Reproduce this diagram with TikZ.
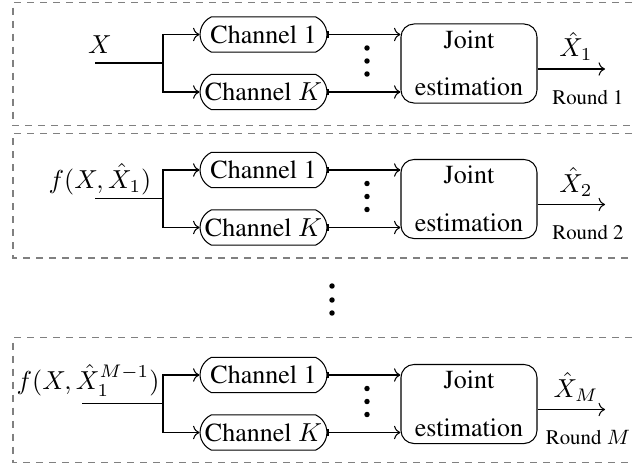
\documentclass[tikz,border=0pt]{standalone}
\usepackage[T1]{fontenc}
\renewcommand{\rmdefault}{ptm}
\usetikzlibrary{shapes.misc,arrows.meta}
\begin{document}
\begin{tikzpicture}[x=0.3846pt,y=-0.3846pt,
  chan/.style={rounded rectangle, rounded rectangle arc length=130, draw, minimum width=48.8pt, minimum height=13.5pt, inner sep=0pt},
  jbox/.style={draw, rounded corners=5pt, minimum width=52.3pt, minimum height=30.4pt, align=center, inner sep=0pt},
  rbox/.style={draw=gray, line width=0.45pt, dash pattern=on 2.7pt off 2.3pt},
  lbl/.style={anchor=base, inner sep=0pt},
  rnd/.style={anchor=base, inner sep=0pt, font=\footnotesize},
  barto/.style={{Bar[width=2.6pt,line width=0.4pt]}->},
  vdot/.style={circle, fill, inner sep=0pt, minimum size=2.1pt}]
\clip (0,0) rectangle (633,465);
\foreach \i/\o/\sx/\lx/\ly/\inl/\outl/\rl/\bt/\bb in {
 1/0/95/100/53.3/{$X$}/{$\hat{X}_1$}/{Round 1}/2.7/125.7,
 2/135.5/95/100/52.8/{$f(X,\hat{X}_1)$}/{$\hat{X}_2$}/{Round 2}/133.3/258,
 3/340.5/82/88/48.6/{$f(X,\hat{X}_1^{M-1})$}/{$\hat{X}_M$}/{Round $M$}/337.7/462.7}
{
  \draw[rbox] (645,\bt) -- (13,\bt) -- (13,\bb) -- (645,\bb);
  \begin{scope}[shift={(0,\o)}]
    \node[chan] (c1-\i) at (263.5,34.5) {Channel 1};
    \node[chan] (cK-\i) at (263.5,92) {Channel $K$};
    \node[jbox] (J-\i) at (469,63.5) {Joint\\[6.3pt]estimation};
    \coordinate (in-\i) at (\sx,63);
    \coordinate (br-\i) at (163,63);
    \coordinate (out-\i) at (605,69);
    \node[lbl] (il-\i) at (\lx,\ly) {\inl};
    \node[lbl] (ol-\i) at (576,57) {\outl};
    \node[rnd] (rl-\i) at (588,104) {\rl};
    \node[vdot] (d1-\i) at (367,48) {};
    \node[vdot] (d2-\i) at (367,61) {};
    \node[vdot] (d3-\i) at (367,74) {};
    \draw (in-\i) -- (br-\i);
    \draw[->] (br-\i) |- (c1-\i.west);
    \draw[->] (br-\i) |- (cK-\i.west);
    \draw[barto] (c1-\i.east) -- (c1-\i.east -| J-\i.west);
    \draw[barto] (cK-\i.east) -- (cK-\i.east -| J-\i.west);
    \draw[->] (J-\i.east |- out-\i) -- (out-\i);
  \end{scope}
}
\node[vdot] (m1) at (332,286) {};
\node[vdot] (m2) at (332,300) {};
\node[vdot] (m3) at (332,313) {};
\end{tikzpicture}
\end{document}
